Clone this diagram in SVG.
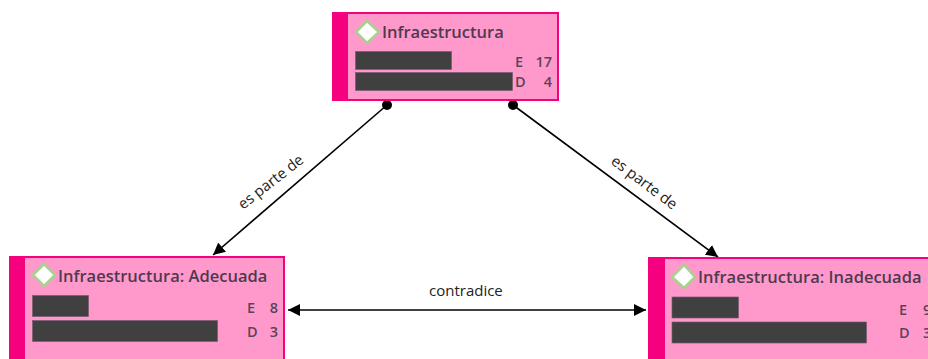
<svg xmlns="http://www.w3.org/2000/svg" width="928" height="359" viewBox="0 0 928 359">
<style>
text{font-family:"Open Sans","Noto Sans","Liberation Sans",sans-serif}
.box{fill:#ff99cc;stroke:#f5007f;stroke-width:2}
.bar{fill:#f5007f}
.dia{fill:#fff;stroke:#a9d18e;stroke-width:2.500;stroke-linejoin:round}
.t{font-size:16.500px;font-weight:600;fill:#4f3a4e}
.n{font-size:14.500px;font-weight:600;fill:#5a4358}
.red{fill:#404040;stroke:#7a5a72;stroke-width:.7}
.c{stroke:#000;stroke-width:1.600;fill:none}
.l{font-size:15px;fill:#222}
</style>
<defs>
<marker id="arr" viewBox="0 0 12 12" refX="12" refY="6" markerWidth="12" markerHeight="12" markerUnits="userSpaceOnUse" orient="auto-start-reverse"><path d="M0 0L12 6L0 12Z" fill="#000"/></marker>
<marker id="dot" viewBox="0 0 10 10" refX="5" refY="5" markerWidth="10" markerHeight="10" markerUnits="userSpaceOnUse"><circle cx="5" cy="5" r="5" fill="#000"/></marker>
</defs>
<g id="connectors">
<path class="c" d="M387 105L213 255" marker-start="url(#dot)" marker-end="url(#arr)"/>
<path class="c" d="M513 105L718 257" marker-start="url(#dot)" marker-end="url(#arr)"/>
<path class="c" d="M288 310H646" marker-start="url(#arr)" marker-end="url(#arr)"/>
<text class="l" transform="translate(243 210) rotate(-38)">es parte de</text>
<text class="l" transform="translate(610 163) rotate(37)">es parte de</text>
<text class="l" x="429" y="296">contradice</text>
</g>
<g id="node-infraestructura">
<rect class="box" x="333" y="13" width="225" height="87"/>
<rect class="bar" x="333" y="13" width="15" height="87"/>
<path class="dia" d="M367 21L379 32L367 43L356 32Z"/>
<text class="t" x="382" y="38">Infraestructura</text>
<rect class="red" x="355.500" y="51.500" width="96" height="18"/>
<rect class="red" x="355.500" y="72.500" width="157" height="18"/>
<text class="n" x="515" y="67">E</text><text class="n" x="552" y="67" text-anchor="end">17</text>
<text class="n" x="515" y="87">D</text><text class="n" x="552" y="87" text-anchor="end">4</text>
</g>
<g id="node-adecuada">
<rect class="box" x="10" y="257" width="274" height="112"/>
<rect class="bar" x="10" y="257" width="15" height="112"/>
<path class="dia" d="M44 264L55 275L44 286L33 275Z"/>
<text class="t" x="58" y="282">Infraestructura: Adecuada</text>
<rect class="red" x="32.500" y="295.500" width="56" height="21"/>
<rect class="red" x="32.500" y="320.500" width="185" height="21"/>
<text class="n" x="247" y="313">E</text><text class="n" x="278" y="313" text-anchor="end">8</text>
<text class="n" x="247" y="337">D</text><text class="n" x="278" y="337" text-anchor="end">3</text>
</g>
<g id="node-inadecuada">
<rect class="box" x="649" y="258" width="300" height="112"/>
<rect class="bar" x="649" y="258" width="16" height="112"/>
<path class="dia" d="M684 265L695 277L684 288L672 277Z"/>
<text class="t" x="698" y="283">Infraestructura: Inadecuada</text>
<rect class="red" x="672" y="297" width="66.500" height="21"/>
<rect class="red" x="672" y="322" width="194.500" height="21"/>
<text class="n" x="899" y="315">E</text><text class="n" x="923" y="315">9</text>
<text class="n" x="899" y="338">D</text><text class="n" x="923" y="338">3</text>
</g>
</svg>
